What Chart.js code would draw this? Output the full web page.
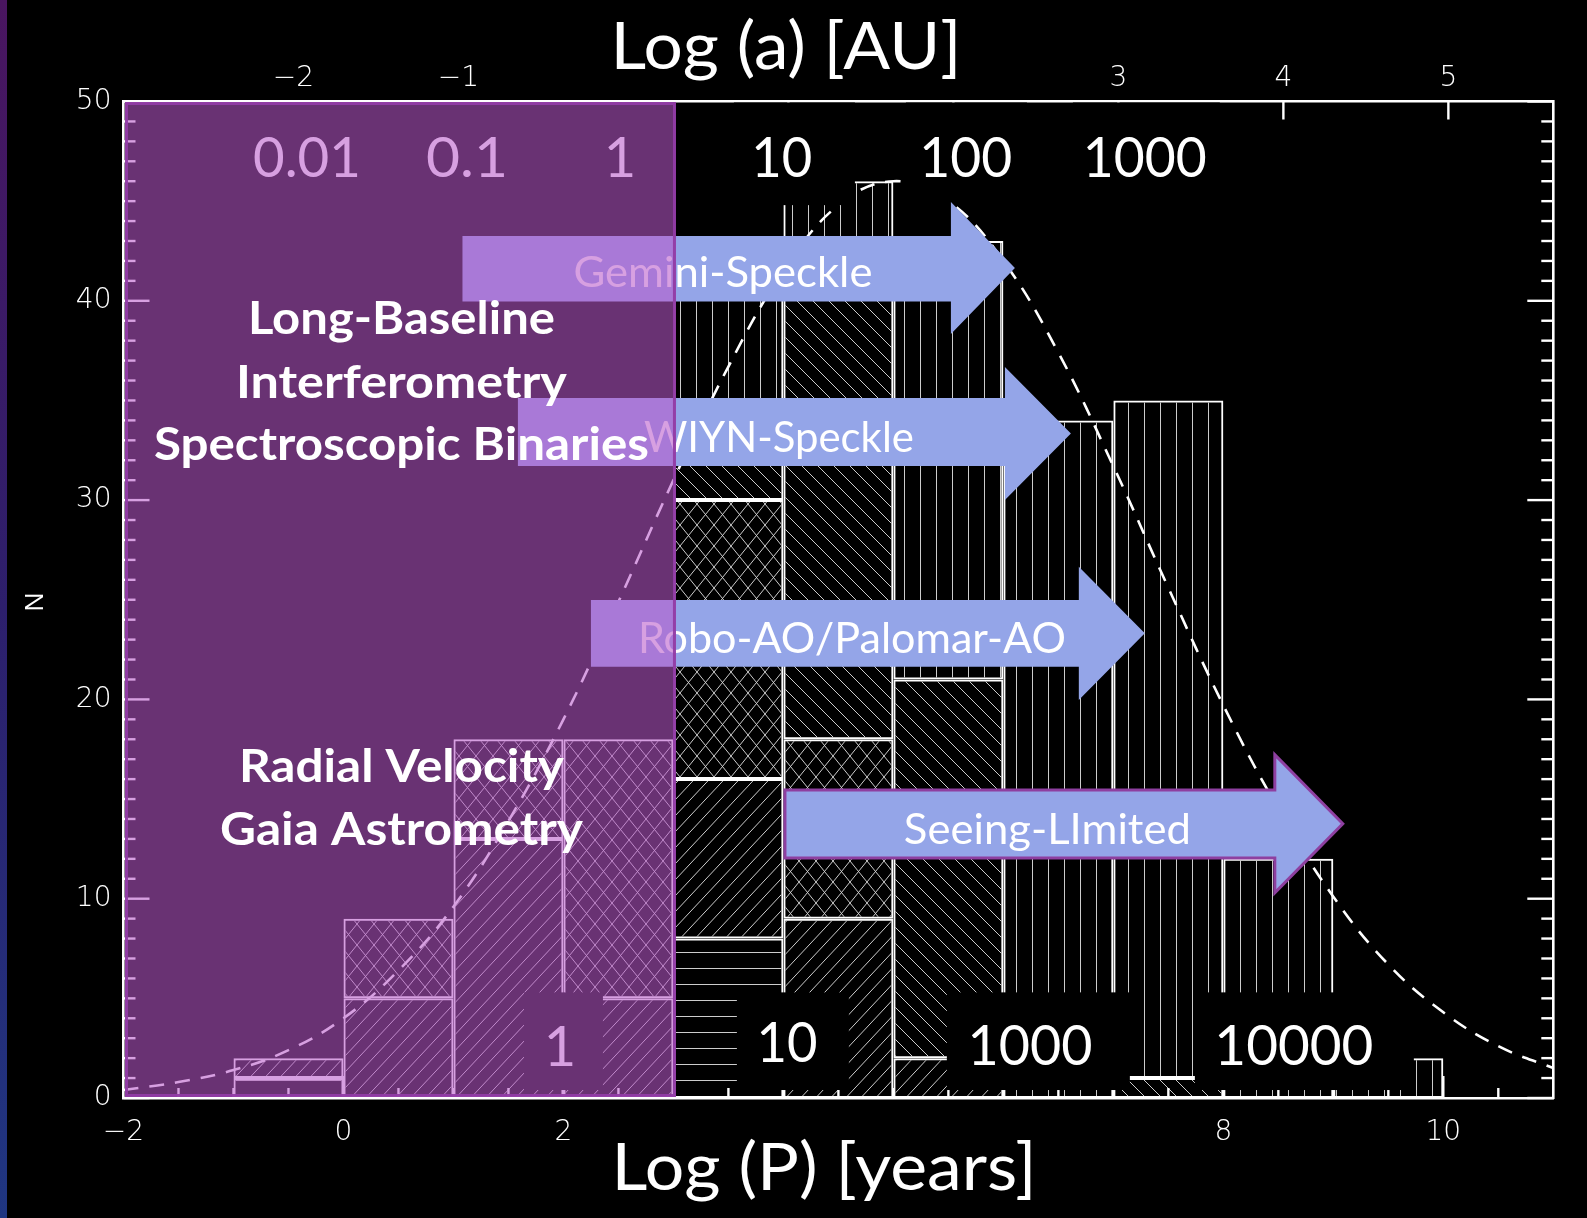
<!DOCTYPE html>
<html><head><meta charset="utf-8">
<script src="https://cdn.jsdelivr.net/npm/chart.js@4.4.1/dist/chart.umd.min.js"></script>
<style>html,body{margin:0;padding:0;background:#000;overflow:hidden}canvas{display:block}</style>
</head><body>
<canvas id="c" width="1587" height="1218" style="width:1587px;height:1218px"></canvas>
<script>
// ---------- data ----------
const binCenters      = [-0.5, 0.5, 1.5, 2.5, 3.5, 4.5, 5.5, 6.5, 7.5, 8.5, 9.5];
const horizontalHatch = [1, null, null, null, 8, null, null, null, null, null, null];
const forwardHatch    = [1, 5, 13, 5, 8, 9, 2, null, null, null, null];
const crossHatch      = [null, 4, 5, 13, 14, 9, null, null, null, null, null];
const backHatch       = [null, null, null, null, 3, 24, 19, null, 1, null, null];
const verticalHatch   = [null, null, null, null, 8, 4, 22, 34, 34, 12, 2];
const fitLogP = [-2, -1.5, -1, -0.5, 0, 0.5, 1, 1.5, 2, 2.5, 3, 3.5, 4, 4.5, 5, 5.5, 6, 6.5, 7, 7.5, 8, 8.5, 9, 9.5, 10, 10.5, 11];
const fitN    = [0.4, 0.8, 1.4, 2.4, 4.0, 6.4, 9.6, 13.9, 19.0, 24.9, 31.0, 36.7, 41.5, 44.8, 46.0, 45.0, 42.0, 37.4, 31.7, 25.6, 19.7, 14.5, 10.1, 6.7, 4.3, 2.6, 1.5];
const periodTicksShown = [-2, 0, 2, 8, 10];
const sepTicksShown    = [-2, -1, 3, 4, 5];
const yTicks = [0, 10, 20, 30, 40, 50];

const fmt = v => v < 0 ? '\u2212' + Math.abs(v) : String(v);

function hatch(kind) {
  const dims = {fwd:[15,16], back:[16,16], cross:[17,21], vert:[16,16], horiz:[16,16]}[kind];
  const w = dims[0], h = dims[1];
  const c = document.createElement('canvas'); c.width = w; c.height = h;
  const g = c.getContext('2d');
  g.strokeStyle = 'rgba(215,215,215,0.95)'; g.lineWidth = 1;
  g.beginPath();
  for (let dx = -1; dx <= 1; dx++) for (let dy = -1; dy <= 1; dy++) {
    const ox = dx * w, oy = dy * h;
    if (kind === 'fwd' || kind === 'cross') { g.moveTo(ox, oy + h); g.lineTo(ox + w, oy); }
    if (kind === 'back' || kind === 'cross') { g.moveTo(ox, oy); g.lineTo(ox + w, oy + h); }
  }
  if (kind === 'vert') { g.moveTo(w/2 + 0.5, 0); g.lineTo(w/2 + 0.5, h); }
  if (kind === 'horiz') { g.moveTo(0, h/2 + 0.5); g.lineTo(w, h/2 + 0.5); }
  g.stroke();
  return document.getElementById('c').getContext('2d').createPattern(c, 'repeat');
}

const pts = arr => binCenters.map((x, i) => ({x, y: arr[i]}));
const barStyle = {borderColor:'#ffffff', borderWidth:2, borderSkipped:false, inflateAmount:0, stack:'hist', order:0};
const tickFont = {family:"'DejaVu Sans', sans-serif", size:28, weight:'200'};

const deco = {
  id: 'deco',
  beforeDraw(chart) {
    const ctx = chart.ctx;
    ctx.save();
    ctx.fillStyle = '#000'; ctx.fillRect(0, 0, chart.width, chart.height);
    const g = ctx.createLinearGradient(0, 0, 0, chart.height);
    g.addColorStop(0, '#4a1560'); g.addColorStop(0.5, '#2d1f6c'); g.addColorStop(1, '#1f3682');
    ctx.fillStyle = g; ctx.fillRect(0, 0, 7, chart.height);
    ctx.restore();
  },
  afterDraw(chart) {
    const {ctx, chartArea: ca} = chart;
    const sx = chart.scales.x, sx2 = chart.scales.x2, sy = chart.scales.y;
    const X = v => sx.getPixelForValue(v), Y = v => sy.getPixelForValue(v);
    const line = (a, b, c, d) => { ctx.beginPath(); ctx.moveTo(a, b); ctx.lineTo(c, d); ctx.stroke(); };
    const txt = (s, cx, by, font, color, w) => {
      ctx.save(); ctx.font = font; ctx.fillStyle = color; ctx.textAlign = 'center'; ctx.textBaseline = 'alphabetic';
      let k = 1; if (w) { k = w / ctx.measureText(s).width; }
      ctx.translate(cx, by); ctx.scale(k, 1); ctx.fillText(s, 0, 0); ctx.restore();
    };
    ctx.save();
    // inward tick marks
    ctx.strokeStyle = '#fff'; ctx.lineWidth = 2.4;
    for (let n = 0; n <= 50; n++) {
      const py = Y(n), L = n % 10 === 0 ? 26 : 12;
      line(ca.left, py, ca.left + L, py); line(ca.right, py, ca.right - L, py);
    }
    for (let v = -1.5; v < 11; v += 0.5) {
      const L = (Number.isInteger(v) && v % 2 === 0) ? 22 : 10;
      line(X(v), ca.bottom, X(v), ca.bottom - L);
    }
    for (let a = -2; a <= 5; a++) { const px = sx2.getPixelForValue(a); line(px, ca.top, px, ca.top + 18); }

    // black label boxes with numbers
    const numFont = '56px Lato';
    const topLabels = [
      ['0.01', -0.332, -0.941, 0.286, 108], ['0.1', 1.123, 0.650, 1.605, 82], ['1', 2.514, 2.241, 2.786, 0],
      ['10', 3.986, 3.550, 4.650, 61], ['100', 5.659, 5.114, 6.214, 93], ['1000', 7.286, 6.632, 7.968, 124]];
    const botLabels = [
      ['1', 1.968, 1.641, 2.359, 0, 1.61], ['10', 4.032, 3.577, 4.595, 61, 1.81],
      ['1000', 6.241, 5.486, 7.150, 125, 1.66], ['10000', 8.641, 7.741, 9.732, 159, 1.66]];
    topLabels.forEach(l => { ctx.fillStyle = '#000'; ctx.fillRect(X(l[2]), ca.top + 1, X(l[3]) - X(l[2]), Y(44.8) - ca.top - 1);
      txt(l[0], X(l[1]), Y(46.21), numFont, '#fff', l[4]); });
    botLabels.forEach(l => { ctx.fillStyle = '#000'; ctx.fillRect(X(l[2]), Y(5.3), X(l[3]) - X(l[2]), Y(0.4) - Y(5.3));
      txt(l[0], X(l[1]), Y(l[5]), numFont, '#fff', l[4]); });

    // arrows
    const arrows = [
      {t:'Gemini-Speckle', x0:1.082, xh:5.523, xt:6.105, yT:43.25, yB:39.96, hT:44.96, hB:38.33, tx:3.45, tb:40.70, w:299},
      {t:'WIYN-Speckle', x0:1.586, xh:6.014, xt:6.614, yT:35.12, yB:31.71, hT:36.68, hB:30.0, tx:3.959, tb:32.41, w:270},
      {t:'Robo-AO/Palomar-AO', x0:2.25, xh:6.686, xt:7.286, yT:24.99, yB:21.64, hT:26.66, hB:19.97, tx:4.623, tb:22.33, w:428},
      {t:'Seeing-LImited', x0:4.014, xh:8.468, xt:9.086, yT:15.45, yB:12.04, hT:17.23, hB:10.29, tx:6.40, tb:12.74, w:287, border:true}];
    arrows.forEach(a => {
      const hT = Y(a.hT), hB = Y(a.hB);
      ctx.beginPath();
      ctx.moveTo(X(a.x0), Y(a.yT)); ctx.lineTo(X(a.xh), Y(a.yT)); ctx.lineTo(X(a.xh), hT);
      ctx.lineTo(X(a.xt), (hT + hB) / 2); ctx.lineTo(X(a.xh), hB); ctx.lineTo(X(a.xh), Y(a.yB)); ctx.lineTo(X(a.x0), Y(a.yB));
      ctx.closePath();
      ctx.fillStyle = '#94a5e8'; ctx.fill();
      if (a.border) { ctx.strokeStyle = '#8e3fa0'; ctx.lineWidth = 3; ctx.stroke(); }
      txt(a.t, X(a.tx), Y(a.tb), '43px Lato', '#fff', a.w);
    });

    // translucent purple overlay
    const ox0 = ca.left + 1.5, ox1 = X(3.023), oy0 = ca.top + 0.5, oy1 = ca.bottom - 1;
    ctx.fillStyle = 'rgba(184,88,202,0.57)'; ctx.fillRect(ox0, oy0, ox1 - ox0, oy1 - oy0);
    ctx.strokeStyle = 'rgba(145,60,165,0.95)'; ctx.lineWidth = 3; ctx.strokeRect(ox0 + 1.5, oy0 + 1.5, ox1 - ox0 - 3, oy1 - oy0 - 3);

    // bold method labels
    const bold = '700 46px Lato';
    txt('Long-Baseline', X(0.527), Y(38.33), bold, '#fff', 307);
    txt('Interferometry', X(0.527), Y(35.12), bold, '#fff', 331);
    txt('Spectroscopic Binaries', X(0.527), Y(31.99), bold, '#fff', 495);
    txt('Radial Velocity', X(0.527), Y(15.86), '700 45px Lato', '#fff', 325);
    txt('Gaia Astrometry', X(0.527), Y(12.69), '700 45px Lato', '#fff', 363);

    // axis titles
    txt('Log (a) [AU]', 786, 69, '66px Lato', '#fff', 351);
    txt('Log (P) [years]', 824, 1190, '66px Lato', '#fff', 425);
    ctx.save(); ctx.translate(35.5, 602); ctx.rotate(-Math.PI / 2);
    ctx.font = "26px 'Open Sans'"; ctx.fillStyle = '#fff'; ctx.textAlign = 'center'; ctx.textBaseline = 'middle';
    ctx.fillText('N', 0, 0); ctx.restore();
    ctx.restore();
  }
};

const P = {horiz:hatch('horiz'), fwd:hatch('fwd'), cross:hatch('cross'), back:hatch('back'), vert:hatch('vert')};

new Chart(document.getElementById('c'), {
  type: 'bar',
  data: {
    datasets: [
      Object.assign({label:'horizontal', data:pts(horizontalHatch), backgroundColor:P.horiz}, barStyle),
      Object.assign({label:'forward', data:pts(forwardHatch), backgroundColor:P.fwd}, barStyle),
      Object.assign({label:'cross', data:pts(crossHatch), backgroundColor:P.cross}, barStyle),
      Object.assign({label:'back', data:pts(backHatch), backgroundColor:P.back}, barStyle),
      Object.assign({label:'vertical', data:pts(verticalHatch), backgroundColor:P.vert}, barStyle),
      {type:'line', label:'log-normal fit', data:fitLogP.map((x, i) => ({x, y:fitN[i]})), borderColor:'#ffffff',
       borderWidth:2.6, borderDash:[15, 11], pointRadius:0, tension:0.4, fill:false, order:-1, stack:'fit'}
    ]
  },
  options: {
    responsive:false, animation:false, devicePixelRatio:1,
    layout:{padding:0},
    plugins:{legend:{display:false}, tooltip:{enabled:false}},
    datasets:{bar:{barPercentage:1, categoryPercentage:1}},
    scales: {
      x: {type:'linear', position:'bottom', min:-2, max:11, offset:false, stacked:true,
          grid:{display:false, drawTicks:false}, border:{display:true, color:'#fff', width:2.6},
          ticks:{stepSize:2, includeBounds:false, autoSkip:false, maxRotation:0, padding:18, color:'#fff', font:tickFont,
                 callback: v => periodTicksShown.includes(v) ? fmt(v) : ''},
          afterFit: s => { s.height = 120; }},
      x2: {type:'linear', position:'top', min:-3.030, max:5.636, offset:false,
          grid:{display:false, drawTicks:false}, border:{display:true, color:'#fff', width:2.6},
          ticks:{stepSize:1, includeBounds:false, autoSkip:false, maxRotation:0, padding:6, color:'#fff', font:tickFont,
                 callback: v => sepTicksShown.includes(v) ? fmt(v) : ''},
          afterFit: s => { s.height = 101.5; }},
      y: {type:'linear', position:'left', min:0, max:50, stacked:true,
          grid:{display:false, drawTicks:false}, border:{display:true, color:'#fff', width:2.6},
          ticks:{stepSize:10, padding:12, color:'#fff', font:tickFont,
                 callback: v => yTicks.includes(v) ? String(v) : ''},
          afterFit: s => { s.width = 123.5; }},
      y2: {type:'linear', position:'right', min:0, max:50,
          grid:{display:false, drawTicks:false}, border:{display:true, color:'#fff', width:2.6},
          ticks:{display:false}, afterFit: s => { s.width = 33.7; }}
    }
  },
  plugins: [deco]
});
</script>
</body></html>
